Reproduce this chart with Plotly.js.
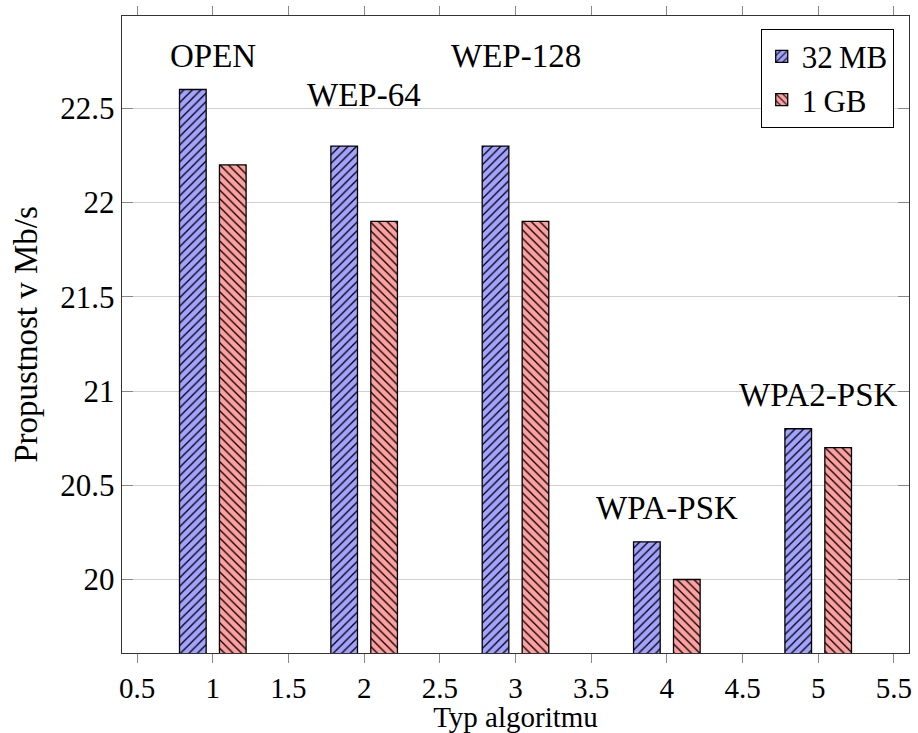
<!DOCTYPE html>
<html>
<head>
<meta charset="utf-8">
<script src="https://cdn.plot.ly/plotly-3.0.1.min.js"></script>
<style>html,body{margin:0;padding:0;background:#fff}#chart{width:918px;height:733px}</style>
</head>
<body>
<div id="chart"></div>
<script>
const categories = [1, 2, 3, 4, 5];
const series32MB = [22.6, 22.3, 22.3, 20.2, 20.8];
const series1GB = [22.2, 21.9, 21.9, 20.0, 20.7];
const groupLabels = ["OPEN", "WEP-64", "WEP-128", "WPA-PSK", "WPA2-PSK"];
const groupLabelY = [22.78, 22.57, 22.78, 20.38, 20.98];
const seriesNames = ["32\u2009MB", "1\u2009GB"];

const FONT = "Liberation Serif, DejaVu Serif, serif";
const FS = 33;

const traces = [
  {
    type: "bar", x: categories, y: series32MB, name: seriesNames[0],
    width: 0.176, offset: -0.22,
    marker: {color: "#a3a3ff", line: {color: "#000", width: 1.3},
      pattern: {shape: "/", fgcolor: "#000", bgcolor: "#a3a3ff", size: 6, solidity: 0.22}}
  },
  {
    type: "bar", x: categories, y: series1GB, name: seriesNames[1],
    width: 0.176, offset: 0.044,
    marker: {color: "#ffa0a0", line: {color: "#000", width: 1.3},
      pattern: {shape: "\\", fgcolor: "#000", bgcolor: "#ffa0a0", size: 6, solidity: 0.22}}
  }
];

const annotations = categories.map((c, i) => ({
  x: c, y: groupLabelY[i], xref: "x", yref: "y", text: groupLabels[i],
  showarrow: false, font: {family: FONT, size: FS, color: "#000"}
}));

const layout = {
  width: 918, height: 733,
  margin: {l: 122, r: 9, t: 16, b: 80},
  paper_bgcolor: "#fff", plot_bgcolor: "#fff",
  font: {family: FONT, size: FS, color: "#000"},
  barmode: "group",
  showlegend: true,
  legend: {x: 0.9806, y: 0.98, xanchor: "right", yanchor: "top",
    bordercolor: "#000", borderwidth: 1, bgcolor: "#fff",
    font: {family: FONT, size: 31}, tracegroupgap: 0, itemwidth: 30},
  xaxis: {
    range: [0.4, 5.6], dtick: 0.5, tick0: 0.5,
    showgrid: false, zeroline: false,
    showline: true, linecolor: "#333", linewidth: 1.3, mirror: "ticks",
    ticks: "outside", ticklen: 9, tickcolor: "#888", tickwidth: 1,
    tickfont: {family: FONT, size: 29},
    title: {text: "Typ algoritmu", font: {family: FONT, size: 29}, standoff: 2}
  },
  yaxis: {
    range: [19.61, 22.99], dtick: 0.5, tick0: 20,
    showgrid: true, gridcolor: "#d0d0d0", gridwidth: 1, zeroline: false,
    showline: true, linecolor: "#333", linewidth: 1.3, mirror: "ticks",
    ticks: "inside", ticklen: 11, tickcolor: "#888", tickwidth: 1,
    tickfont: {family: FONT, size: 31},
    title: {text: "Propustnost v Mb/s", font: {family: FONT, size: 33}, standoff: 12}
  },
  annotations: annotations
};

Plotly.newPlot("chart", traces, layout, {displayModeBar: false, staticPlot: true});
</script>
</body>
</html>
